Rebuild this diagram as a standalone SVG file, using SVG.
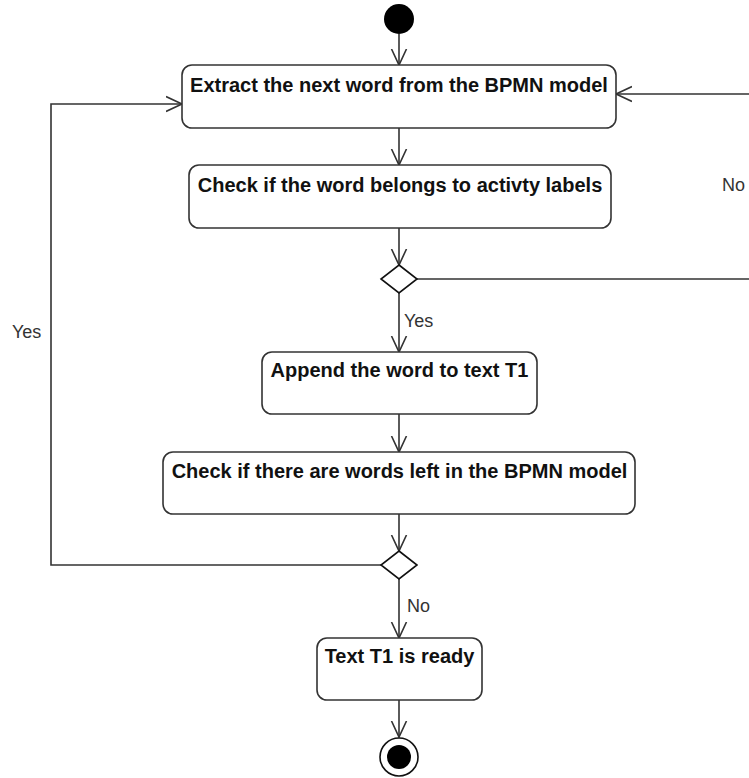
<svg xmlns="http://www.w3.org/2000/svg" width="749" height="778" viewBox="0 0 749 778">
<style>
.box{fill:#fff;stroke:#333;stroke-width:1.6}
.t{font-family:"Liberation Sans",Arial,sans-serif;font-weight:bold;font-size:20px;fill:#111;text-anchor:middle}
.lbl{font-family:"Liberation Sans",Arial,sans-serif;font-size:18px;fill:#333}
.edge{fill:none;stroke:#333;stroke-width:1.6}
.dia{fill:#fff;stroke:#111;stroke-width:1.6}
</style>
<defs>
<marker id="arr" viewBox="0 0 20 20" markerWidth="20" markerHeight="20" refX="16" refY="10" orient="auto" markerUnits="userSpaceOnUse">
<path d="M0,2.5 L16,10 L0,17.5" fill="none" stroke="#333" stroke-width="1.6"/>
</marker>
</defs>
<g id="connectors">
<path class="edge" d="M399,34 V65" marker-end="url(#arr)"/>
<path class="edge" d="M399,128 V165" marker-end="url(#arr)"/>
<path class="edge" d="M399,228 V265" marker-end="url(#arr)"/>
<path class="edge" d="M417,279 H760 V94 H616" marker-end="url(#arr)"/>
<path class="edge" d="M399,293 V352" marker-end="url(#arr)"/>
<path class="edge" d="M399,414 V452" marker-end="url(#arr)"/>
<path class="edge" d="M399,514 V551" marker-end="url(#arr)"/>
<path class="edge" d="M381,565 H51 V104 H182" marker-end="url(#arr)"/>
<path class="edge" d="M399,579 V638" marker-end="url(#arr)"/>
<path class="edge" d="M399,700 V737" marker-end="url(#arr)"/>
<text class="lbl" x="722" y="191">No</text>
<text class="lbl" x="404" y="327">Yes</text>
<text class="lbl" x="12" y="338">Yes</text>
<text class="lbl" x="407" y="612">No</text>
</g>
<g id="start"><circle cx="399" cy="19" r="15" fill="#000"/></g>
<g id="extract"><rect class="box" x="182" y="65" width="434" height="63" rx="10"/><text class="t" x="399" y="92">Extract the next word from the BPMN model</text></g>
<g id="checkLabel"><rect class="box" x="189" y="165" width="422" height="63" rx="10"/><text class="t" x="400" y="192">Check if the word belongs to activty labels</text></g>
<g id="decision1"><polygon class="dia" points="399,265 417,279 399,293 381,279"/></g>
<g id="append"><rect class="box" x="262" y="352" width="275" height="62" rx="10"/><text class="t" x="399.5" y="377">Append the word to text T1</text></g>
<g id="checkLeft"><rect class="box" x="163" y="452" width="472" height="62" rx="10"/><text class="t" x="399.5" y="478">Check if there are words left in the BPMN model</text></g>
<g id="decision2"><polygon class="dia" points="399,551 417,565 399,579 381,565"/></g>
<g id="ready"><rect class="box" x="317" y="638" width="165" height="62" rx="10"/><text class="t" x="399.5" y="663">Text T1 is ready</text></g>
<g id="end"><circle cx="399" cy="757" r="19" fill="#fff" stroke="#111" stroke-width="1.6"/><circle cx="399" cy="757" r="12" fill="#000"/></g>
</svg>
